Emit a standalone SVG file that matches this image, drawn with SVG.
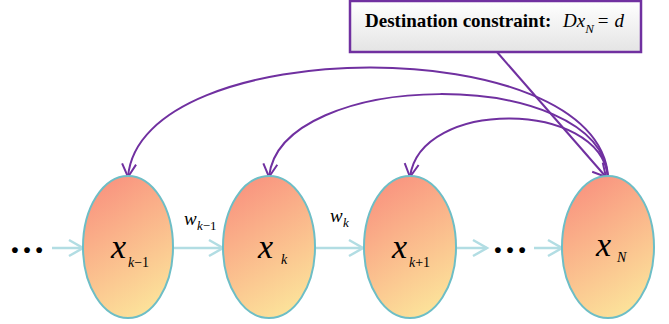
<svg xmlns="http://www.w3.org/2000/svg" width="669" height="324" viewBox="0 0 669 324">
<defs>
<linearGradient id="nodeFill" x1="0.3" y1="0" x2="0.7" y2="1">
<stop offset="0" stop-color="#F9937F"/>
<stop offset="1" stop-color="#FCE59B"/>
</linearGradient>
<linearGradient id="boxFill" x1="0" y1="0" x2="0" y2="1">
<stop offset="0" stop-color="#FFFFFF"/>
<stop offset="1" stop-color="#E4E4E4"/>
</linearGradient>
<marker id="purpleArrow" markerUnits="userSpaceOnUse" markerWidth="16" markerHeight="16" refX="13" refY="7" orient="auto" overflow="visible">
<path d="M0,0 L13,7 L0,14" fill="none" stroke="#7030A0" stroke-width="2"/>
</marker>
<marker id="cyanArrow" markerUnits="userSpaceOnUse" markerWidth="18" markerHeight="18" refX="14" refY="8" orient="auto" overflow="visible">
<path d="M0,0 L14,8 L0,16" fill="none" stroke="#B2DDE3" stroke-width="2.5"/>
</marker>
</defs>
<style>
text { font-family: "Liberation Serif", "Times New Roman", "DejaVu Serif", serif; fill: #000; }
.node ellipse { fill: url(#nodeFill); stroke: #6DBEC6; stroke-width: 2; }
.var { font-style: italic; font-size: 34px; }
.sub { font-style: italic; font-size: 14px; }
.subr { font-style: normal; }
.lbl { font-style: italic; font-size: 19px; }
.lsub { font-style: italic; font-size: 13px; }
.dots { font-weight: bold; font-size: 36px; }
.title { font-weight: bold; font-size: 19px; }
.math { font-size: 19px; }
.arc { fill: none; stroke: #7030A0; stroke-width: 2; marker-end: url(#purpleArrow); }
.flow { fill: none; stroke: #B2DDE3; stroke-width: 2.5; marker-end: url(#cyanArrow); }
</style>

<g id="constraint">
<rect x="350" y="1" width="291" height="51" fill="url(#boxFill)" stroke="#7030A0" stroke-width="2.5"/>
<text class="title" x="365" y="27">Destination constraint:</text>
<text class="math" x="563" y="27"><tspan font-style="italic">Dx</tspan><tspan font-style="italic" font-size="13" dy="6">N</tspan><tspan dy="-6" dx="4">=</tspan><tspan font-style="italic" dx="6">d</tspan></text>
</g>

<g id="connectors">
<path class="arc" d="M608,177 C600,30 140,32 128,177"/>
<path class="arc" d="M608,177 C600,65 280,68 269,177"/>
<path class="arc" d="M608,177 C600,100 420,98 410,177"/>
<path class="arc" d="M497,52 L606,177"/>
<path class="flow" d="M52,248 L83,248"/>
<path class="flow" d="M174,248 L223,248"/>
<path class="flow" d="M315,248 L363,248"/>
<path class="flow" d="M456,248 L487,248"/>
<path class="flow" d="M534,248 L562,248"/>
</g>

<g id="dots-left"><text class="dots" x="27" y="253" text-anchor="middle">…</text></g>
<g id="dots-right"><text class="dots" x="510" y="253" text-anchor="middle">…</text></g>

<g id="node-xk-1" class="node">
<ellipse cx="128" cy="247" rx="45" ry="71"/>
<text class="var" x="111" y="258">x</text>
<text class="sub" x="128" y="267">k<tspan class="subr">−1</tspan></text>
</g>
<g id="node-xk" class="node">
<ellipse cx="269" cy="247" rx="46" ry="71"/>
<text class="var" x="258" y="258">x</text>
<text class="sub" x="281" y="264">k</text>
</g>
<g id="node-xk+1" class="node">
<ellipse cx="410" cy="247" rx="46" ry="71"/>
<text class="var" x="392" y="258">x</text>
<text class="sub" x="409" y="267">k<tspan class="subr">+1</tspan></text>
</g>
<g id="node-xN" class="node">
<ellipse cx="608" cy="247" rx="46" ry="71"/>
<text class="var" x="596" y="256">x</text>
<text class="sub" x="617" y="262">N</text>
</g>

<g id="label-wk-1">
<text class="lbl" x="184" y="225">w</text>
<text class="lsub" x="197" y="230">k<tspan class="subr">−1</tspan></text>
</g>
<g id="label-wk">
<text class="lbl" x="330" y="222">w</text>
<text class="lsub" x="343" y="227">k</text>
</g>
</svg>
